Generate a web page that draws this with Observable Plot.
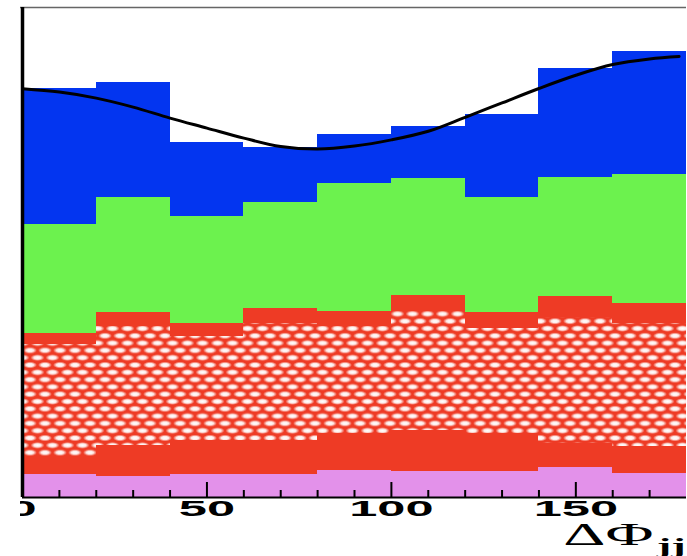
<!DOCTYPE html>
<html>
<head>
<meta charset="utf-8">
<script src="https://cdn.jsdelivr.net/npm/d3@7"></script>
<script src="https://cdn.jsdelivr.net/npm/@observablehq/plot@0.6"></script>
<style>
  html, body { margin: 0; padding: 0; background: #fff; }
  #chart svg { display: block; clip-path: inset(0 0 0 20px); }
</style>
</head>
<body>
<div id="chart"></div>
<script>
// ΔΦjj histogram: 9 bins of 20 degrees, six stacked contributions (bottom first)
const binStart = [0, 20, 40, 60, 80, 100, 120, 140, 160];
const binWidth = 20;

const violet   = [11.4, 10.7, 11.5, 11.4, 13.5, 13.0, 13.0, 14.9, 11.9];
const redLower = [ 9.3, 15.4, 17.0, 17.2, 18.4, 20.3, 19.0, 12.2, 13.8];
const hatched  = [55.9, 59.2, 51.8, 58.5, 53.8, 59.8, 52.4, 62.9, 61.2];
const redUpper = [ 5.5,  7.0,  6.5,  7.5,  7.4,  7.9,  7.9, 10.3, 10.0];
const green    = [54.3, 57.5, 53.8, 52.9, 63.9, 58.4, 57.6, 59.9, 64.7];
const blue     = [68.1, 57.7, 36.8, 27.5, 24.3, 26.0, 41.7, 54.4, 61.5];

// overlaid model curve, sampled along ΔΦjj
const curveX = [0, 10, 20, 30, 40, 50, 60, 70, 80, 90, 100, 110, 120, 130, 140, 150, 160, 170, 178];
const curveY = [204.4, 202.7, 199.7, 195.2, 189.7, 184.7, 179.7, 175.5, 174.2, 175.7, 178.8, 183.1, 190.1, 197.3, 204.5, 211.1, 216.5, 219.3, 220.5];

// axis ticks and labels
const minorTicks = [10, 20, 30, 40, 60, 70, 80, 90, 110, 120, 130, 140, 160, 170];
const majorTicks = [50, 100, 150];
const tickLabels = ["0", "50", "100", "150"];
const axisTitle = "ΔΦ";
const axisTitleSub = "jj";

// stacking order and fills
const layers = ["violet", "redLower", "hatched", "redUpper", "green", "blue"];
const layerValues = [violet, redLower, hatched, redUpper, green, blue];
const layerFills = ["#e391ea", "#ee3b25", "url(#mesh)", "#ee3b25", "#6cf24e", "#0335f0"];

const bars = layers.flatMap((layer, j) =>
  binStart.map((x0, i) => ({layer, x1: x0, x2: x0 + binWidth, y: layerValues[j][i]}))
);
const curve = curveX.map((x, i) => ({x, y: curveY[i]}));

const chart = Plot.plot({
  width: 687,
  height: 556,
  marginLeft: 22,
  marginRight: 1,
  marginTop: 7,
  marginBottom: 59,
  x: {domain: [0, 180], axis: null},
  y: {domain: [0, 245], axis: null},
  color: {domain: layers, range: layerFills},
  marks: [
    Plot.rectY(bars, {x1: "x1", x2: "x2", y: "y", fill: "layer", shapeRendering: "crispEdges"}),
    Plot.line(curve, {x: "x", y: "y", stroke: "#000", strokeWidth: 3, curve: "catmull-rom"}),
    Plot.ruleY([245], {stroke: "#666", strokeWidth: 1.5, insetLeft: -3}),
    Plot.ruleX(minorTicks, {x: d => d, y1: 0, y2: 0, insetTop: -7, stroke: "#000", strokeWidth: 2}),
    Plot.ruleX(majorTicks, {x: d => d, y1: 0, y2: 0, insetTop: -15, stroke: "#000", strokeWidth: 2}),
    Plot.ruleY([0], {stroke: "#000", strokeWidth: 2}),
    Plot.ruleX([0], {stroke: "#000", strokeWidth: 3.5}),
    Plot.text(tickLabels, {
      x: d => +d, text: d => d, frameAnchor: "bottom", dy: 18,
      fontSize: 22, fontWeight: "bold", fontFamily: "Liberation Sans, Arial, sans-serif",
      fill: "#000"
    }),
    Plot.text([axisTitle], {
      text: d => d, frameAnchor: "bottom-right", textAnchor: "end", dx: -33, dy: 47,
      fontSize: 32, fontFamily: "Liberation Serif, Times New Roman, serif",
      fill: "#000"
    }),
    Plot.text([axisTitleSub], {
      text: d => d, frameAnchor: "bottom-right", textAnchor: "end", dx: -1, dy: 55,
      fontSize: 21, fontWeight: "bold", fontFamily: "Liberation Serif, Times New Roman, serif",
      fill: "#000"
    })
  ]
});

// cross-hatch fill used by the middle red contribution
d3.select(chart).insert("defs", ":first-child").html(`
  <radialGradient id="meshHole">
    <stop offset="0" stop-color="#fff" stop-opacity="1"/>
    <stop offset="0.5" stop-color="#fff" stop-opacity="0.9"/>
    <stop offset="1" stop-color="#fff" stop-opacity="0"/>
  </radialGradient>
  <pattern id="mesh" patternUnits="userSpaceOnUse" width="15" height="14.6">
    <rect width="15" height="14.6" fill="#ee3b25"/>
    <g fill="url(#meshHole)">
      <ellipse cx="0" cy="0" rx="7" ry="3.3"/>
      <ellipse cx="15" cy="0" rx="7" ry="3.3"/>
      <ellipse cx="0" cy="14.6" rx="7" ry="3.3"/>
      <ellipse cx="15" cy="14.6" rx="7" ry="3.3"/>
      <ellipse cx="7.5" cy="7.3" rx="7" ry="3.3"/>
    </g>
  </pattern>`);

// wide lettering: stretch the labels horizontally about their anchor points
const stretchBy = new Map([...tickLabels.map(t => [t, 2.3]), [axisTitle, 2.05], [axisTitleSub, 2.05]]);
chart.querySelectorAll("text").forEach(t => {
  const sx = stretchBy.get(t.textContent);
  if (!sx) return;
  const tr = t.getAttribute("transform") || "";
  const x = t.getAttribute("x") || 0, y = t.getAttribute("y") || 0;
  t.removeAttribute("x");
  t.removeAttribute("y");
  t.setAttribute("transform", `${tr} translate(${x},${y}) scale(${sx},1)`);
});

document.getElementById("chart").append(chart);
</script>
</body>
</html>
